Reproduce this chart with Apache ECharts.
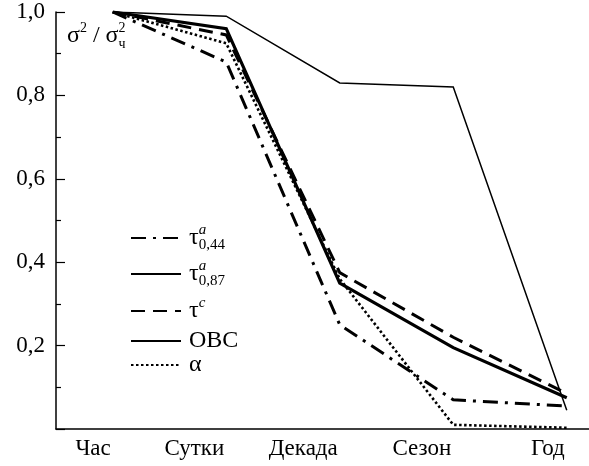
<!DOCTYPE html>
<html><head><meta charset="utf-8">
<script src="https://cdn.jsdelivr.net/npm/echarts@6/dist/echarts.min.js"></script>
<style>html,body{margin:0;padding:0;background:#fff}#c{width:589px;height:466px}</style>
</head><body><div id="c"></div><script>
const categories = ['Час', 'Сутки', 'Декада', 'Сезон', 'Год'];
const tau044 = [1.0, 0.88, 0.25, 0.07, 0.055];
const tau087 = [1.0, 0.96, 0.35, 0.195, 0.075];
const tauC   = [1.0, 0.945, 0.375, 0.22, 0.085];
const obc    = [1.0, 0.99, 0.83, 0.82, 0.045];
const alpha  = [1.0, 0.925, 0.36, 0.01, 0.003];
const yTickLabels = ['', '0,2', '0,4', '0,6', '0,8', '1,0'];

const FONT = '"Liberation Serif", "DejaVu Serif", serif';
const chart = echarts.init(document.getElementById('c'), null, {renderer: 'canvas'});

const base = {fontFamily: FONT, fontSize: 24, color: '#000', lineHeight: 30};
const sup = {fontFamily: FONT, fontSize: 15, color: '#000', verticalAlign: 'top', fontStyle: 'italic'};
const sub = {fontFamily: FONT, fontSize: 15, color: '#000', verticalAlign: 'bottom', lineHeight: 22};
const legendRich = {
  t: base,
  a: Object.assign({}, sup, {width: 0}),
  b: sub,
  c: Object.assign({}, sup)
};
const legendText = {
  'tau044': '{t|τ}{a|a}{b|0,44}',
  'tau087': '{t|τ}{a|a}{b|0,87}',
  'tauc': '{t|τ}{c|c}',
  'obc': '{t|ОВС}',
  'alpha': '{t|α}'
};
const legendCenters = {'tau044': 238, 'tau087': 274, 'tauc': 311, 'obc': 344, 'alpha': 368};
const names = ['tau044', 'tau087', 'tauc', 'obc', 'alpha'];

function mkLegend(name) {
  return {
    data: [name], orient: 'vertical', left: 130, top: legendCenters[name] - 15,
    padding: 0, itemWidth: 50, itemHeight: 14, itemGap: 0,
    itemStyle: {opacity: 0, borderWidth: 0},
    formatter: n => legendText[n],
    textStyle: {rich: legendRich, padding: [0, 0, 0, 3]},
    selectedMode: false
  };
}

const lineSeries = (name, data, width, type) => ({
  name, type: 'line', data, symbol: 'none', showSymbol: false, smooth: false,
  lineStyle: {color: '#000', width, type, cap: 'butt', join: 'miter'},
  itemStyle: {color: '#000'},
  emphasis: {disabled: true}, animation: false
});

chart.setOption({
  animation: false,
  grid: {left: 56, top: 12, width: 567.5, height: 417, containLabel: false, outerBoundsMode: 'none'},
  xAxis: {
    type: 'category', data: categories, boundaryGap: true,
    axisLine: {lineStyle: {color: '#000', width: 1.5}},
    axisTick: {inside: true, alignWithLabel: true, length: 7, lineStyle: {color: '#000', width: 1.2}},
    axisLabel: {fontFamily: FONT, fontSize: 23, color: '#000', margin: 8, align: 'right', padding: [0, 2, 0, 0]},
    splitLine: {show: false}
  },
  yAxis: {
    type: 'value', min: 0, max: 1, interval: 0.2,
    axisLine: {show: true, lineStyle: {color: '#000', width: 1.5}},
    axisTick: {show: true, inside: true, length: 9, lineStyle: {color: '#000', width: 1.2}},
    minorTick: {show: true, splitNumber: 2, length: 5, lineStyle: {color: '#000', width: 1.2}},
    axisLabel: {fontFamily: FONT, fontSize: 23, color: '#000', margin: 11,
      formatter: v => yTickLabels[Math.round(v / 0.2)]},
    splitLine: {show: false}
  },
  legend: names.map(mkLegend),
  graphic: [{
    type: 'text', left: 67, top: 21,
    style: {
      text: '{s|σ}{p|2}{s| / σ}{q|2}{r|ч}',
      rich: {
        s: {fontFamily: FONT, fontSize: 24, color: '#000', lineHeight: 30},
        p: {fontFamily: FONT, fontSize: 14, color: '#000', verticalAlign: 'top'},
        q: {fontFamily: FONT, fontSize: 14, color: '#000', verticalAlign: 'top', width: 0},
        r: {fontFamily: FONT, fontSize: 14, color: '#000', verticalAlign: 'bottom', lineHeight: 22}
      }
    }
  }],
  series: [
    lineSeries('tau044', tau044, 3, [15, 7, 3, 7]),
    lineSeries('tau087', tau087, 3.2, 'solid'),
    lineSeries('tauc', tauC, 3, [14, 8]),
    lineSeries('obc', obc, 1.5, 'solid'),
    lineSeries('alpha', alpha, 2.6, [2.5, 2.5])
  ]
});
</script></body></html>
